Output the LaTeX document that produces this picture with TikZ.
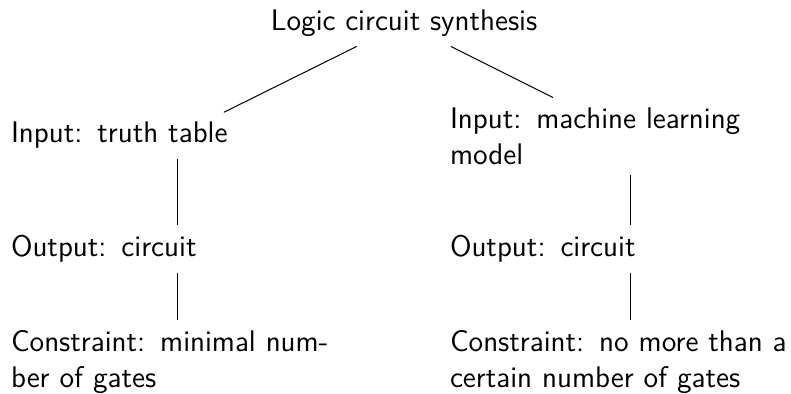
\documentclass[tikz,border=0pt]{standalone}
\usepackage{fontspec}
\begin{document}
\begin{tikzpicture}[x=0.5pt,y=-0.5pt,
  every node/.style={font=\sffamily\fontsize{14.9}{18}\selectfont, inner xsep=0pt, inner ysep=4.8pt},
  lbox/.style={text width=166pt, align=left},
  rbox/.style={text width=180pt, align=left},
  edge/.style={draw=black, line width=0.5pt}]
\useasboundingbox (0,0) rectangle (791,393);
\node (root) at (404,23) {Logic circuit synthesis};
\node[lbox] (lin) at (177,135.5) {Input: truth table};
\node[lbox] (lout) at (177,249) {Output: circuit};
\node[lbox] (lcon) at (177,362) {Constraint: minimal num-\\ber of gates};
\node[rbox] (rin) at (630,136) {Input: machine learning\\model};
\node[rbox] (rout) at (630,249) {Output: circuit};
\node[rbox] (rcon) at (630,362) {Constraint: no more than a\\certain number of gates};
\draw[edge] (root) -- (lin);
\draw[edge] (root) -- (rin);
\draw[edge] (lin) -- (lout);
\draw[edge] (lout) -- (lcon);
\draw[edge] (rin) -- (rout);
\draw[edge] (rout) -- (rcon);
\end{tikzpicture}
\end{document}
